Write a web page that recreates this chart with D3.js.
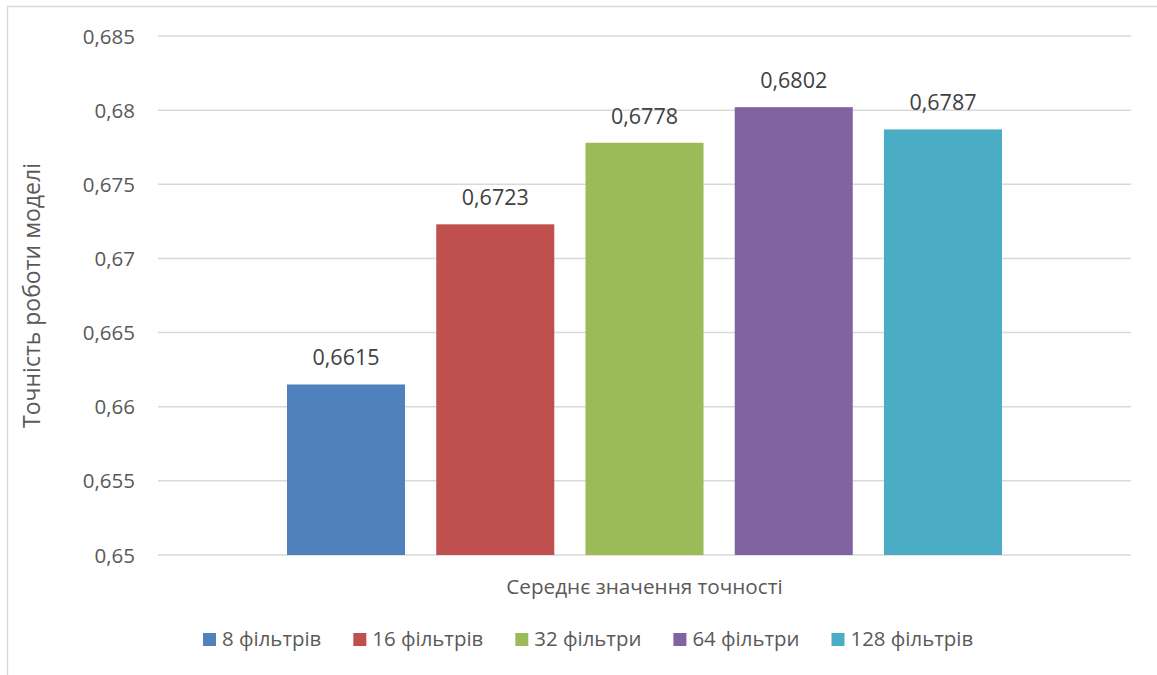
<!DOCTYPE html>
<html>
<head>
<meta charset="utf-8">
<script src="https://cdn.jsdelivr.net/npm/d3@7"></script>
<style>
  html, body { margin: 0; padding: 0; background: #fff; overflow: hidden; }
  svg { display: block; font-family: "Open Sans", "Noto Sans", sans-serif; }
</style>
</head>
<body>
<svg id="chart" width="1157" height="675"></svg>
<script>
// Mean model accuracy by number of convolution filters
const category = "Середнє значення точності";
const seriesNames = ["8 фільтрів", "16 фільтрів", "32 фільтри", "64 фільтри", "128 фільтрів"];
const accuracy = [0.6615, 0.6723, 0.6778, 0.6802, 0.6787];
const accuracyLabels = ["0,6615", "0,6723", "0,6778", "0,6802", "0,6787"];
const seriesColors = ["#4f81bd", "#c0504d", "#9bbb59", "#8064a2", "#4bacc6"];
const yTicks = [0.65, 0.655, 0.66, 0.665, 0.67, 0.675, 0.68, 0.685];
const yTickLabels = ["0,65", "0,655", "0,66", "0,665", "0,67", "0,675", "0,68", "0,685"];
const yTitle = "Точність роботи моделі";

const svg = d3.select("#chart");
const textColor = "#595959";
const gridColor = "#d9d9d9";
const fontSize = 20.5;

// chart frame (extends past the right and bottom edges)
svg.append("rect")
  .attr("x", 7.5).attr("y", 6.5)
  .attr("width", 1300).attr("height", 800)
  .attr("fill", "none").attr("stroke", gridColor).attr("stroke-width", 1.5);

const plot = { left: 158, right: 1131, top: 36, bottom: 555 };

const y = d3.scaleLinear().domain([0.65, 0.685]).range([plot.bottom, plot.top]);

// outer band for the single category, inner band for the series
const x0 = d3.scaleBand().domain([category]).range([plot.left, plot.right])
  .paddingInner(0).paddingOuter(0.1804);
const x1 = d3.scaleBand().domain(seriesNames).range([0, x0.bandwidth()])
  .paddingInner(0.209).paddingOuter(0);

// gridlines
svg.append("g").selectAll("line").data(yTicks).join("line")
  .attr("x1", plot.left).attr("x2", plot.right)
  .attr("y1", d => y(d)).attr("y2", d => y(d))
  .attr("stroke", gridColor).attr("stroke-width", 1.5);

// y tick labels
svg.append("g").selectAll("text").data(yTicks).join("text")
  .attr("x", 135).attr("y", d => y(d) + 7.5)
  .attr("text-anchor", "end")
  .attr("font-size", fontSize).attr("fill", textColor)
  .text((d, i) => yTickLabels[i]);

// bars
const bars = svg.append("g").attr("transform", `translate(${x0(category)},0)`);
bars.selectAll("rect").data(accuracy).join("rect")
  .attr("x", (d, i) => x1(seriesNames[i]))
  .attr("width", x1.bandwidth())
  .attr("y", d => y(d))
  .attr("height", d => y(0.65) - y(d))
  .attr("fill", (d, i) => seriesColors[i]);

// value labels
bars.selectAll("text").data(accuracy).join("text")
  .attr("x", (d, i) => x1(seriesNames[i]) + x1.bandwidth() / 2)
  .attr("y", d => y(d) - 19)
  .attr("text-anchor", "middle")
  .attr("font-size", 21.5).attr("fill", "#404040")
  .text((d, i) => accuracyLabels[i]);

// axis titles
svg.append("text")
  .attr("x", (plot.left + plot.right) / 2).attr("y", 594)
  .attr("text-anchor", "middle")
  .attr("font-size", 20.7).attr("fill", textColor)
  .text(category);

svg.append("text")
  .attr("transform", `translate(40,${(plot.top + plot.bottom) / 2}) rotate(-90)`)
  .attr("text-anchor", "middle")
  .attr("font-size", 23).attr("fill", textColor)
  .text(yTitle);

// legend
const legend = svg.append("g");
let lx = 203;
seriesNames.forEach((name, i) => {
  const item = legend.append("g").attr("transform", `translate(${lx},0)`);
  item.append("rect").attr("x", 0).attr("y", 633).attr("width", 13).attr("height", 13)
    .attr("fill", seriesColors[i]);
  const t = item.append("text").attr("x", 19).attr("y", 646)
    .attr("font-size", 20.4).attr("fill", textColor).text(name);
  lx += 19 + t.node().getComputedTextLength() + 32;
});
</script>
</body>
</html>
